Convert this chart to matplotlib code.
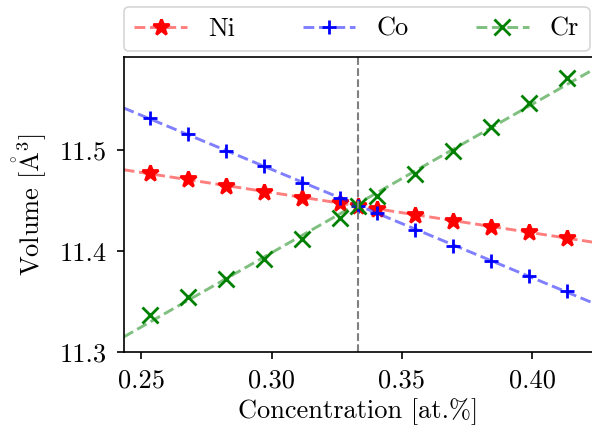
import numpy as np
import matplotlib
matplotlib.use('Agg')
import matplotlib.pyplot as plt

plt.rcParams['font.family'] = 'serif'
plt.rcParams['font.serif'] = ['cmr10']
plt.rcParams['mathtext.fontset'] = 'cm'
plt.rcParams['axes.formatter.use_mathtext'] = True
plt.rcParams['font.size'] = 19
plt.rcParams['axes.linewidth'] = 1.2
plt.rcParams['xtick.major.size'] = 5
plt.rcParams['ytick.major.size'] = 5
plt.rcParams['xtick.major.width'] = 1.2
plt.rcParams['ytick.major.width'] = 1.2
plt.rcParams['xtick.major.pad'] = 7
plt.rcParams['ytick.major.pad'] = 7

# concentrations (12 points + the equiatomic one)
conc = [0.2533, 0.2679, 0.2824, 0.2970, 0.3115, 0.3261, 0.3333,
        0.3406, 0.3552, 0.3697, 0.3842, 0.3988, 0.4133]
vol_ni = [11.4778, 11.4713, 11.4650, 11.4584, 11.4528, 11.4475, 11.4449,
          11.4420, 11.4360, 11.4300, 11.4244, 11.4194, 11.4135]
vol_co = [11.5323, 11.5161, 11.4996, 11.4842, 11.4679, 11.4525, 11.4449,
          11.4376, 11.4211, 11.4055, 11.3907, 11.3755, 11.3610]
vol_cr = [11.3369, 11.3545, 11.3726, 11.3921, 11.4119, 11.4327, 11.4449,
          11.4551, 11.4765, 11.4993, 11.5228, 11.5471, 11.5713]
names = ['Ni', 'Co', 'Cr']
colors = ['r', 'b', 'g']
markers = ['*', '+', 'x']
msizes = [12, 10.5, 12]

x_lo, x_hi = 0.2433, 0.4233

fig = plt.figure(figsize=(5.92, 4.29), dpi=100)
ax = fig.add_axes([0.209, 0.1788, 1.0017 - 0.209, 0.8664 - 0.1788])

x = np.array(conc)
xfit = np.array([x_lo, x_hi])
handles = []
for vol, name, c, m, ms in zip([vol_ni, vol_co, vol_cr], names, colors, markers, msizes):
    # straight fit through the points, drawn over the whole x range
    p = np.polyfit(x, vol, 1)
    l, = ax.plot(xfit, np.polyval(p, xfit), '--', color=c, alpha=0.5, lw=2.1)
    pt, = ax.plot(x, vol, ls='none', marker=m, color=c, ms=ms, mew=2)
    handles.append((l, pt))

ax.axvline(1/3, color='gray', ls='--', lw=1.5)

ax.set_xlim(x_lo, x_hi)
ax.set_ylim(11.3, 11.592)
ax.set_xticks([0.25, 0.30, 0.35, 0.40])
ax.set_xticklabels(['0.25', '0.30', '0.35', '0.40'])
ax.set_yticks([11.3, 11.4, 11.5])
ax.set_yticklabels(['11.3', '11.4', '11.5'])
ax.set_xlabel(r'Concentration [at.%]', labelpad=4)
ax.set_ylabel(r'Volume [$\mathring{\mathrm{A}}^3$]', labelpad=8)
ax.spines['right'].set_visible(False)

leg = ax.legend(handles, names, ncol=3, loc='lower left', mode='expand',
                bbox_to_anchor=(0, 1.02, 0.993, 0.2), borderaxespad=0)
leg.get_frame().set_linewidth(1.2)

fig.savefig('out.png', dpi=100)
